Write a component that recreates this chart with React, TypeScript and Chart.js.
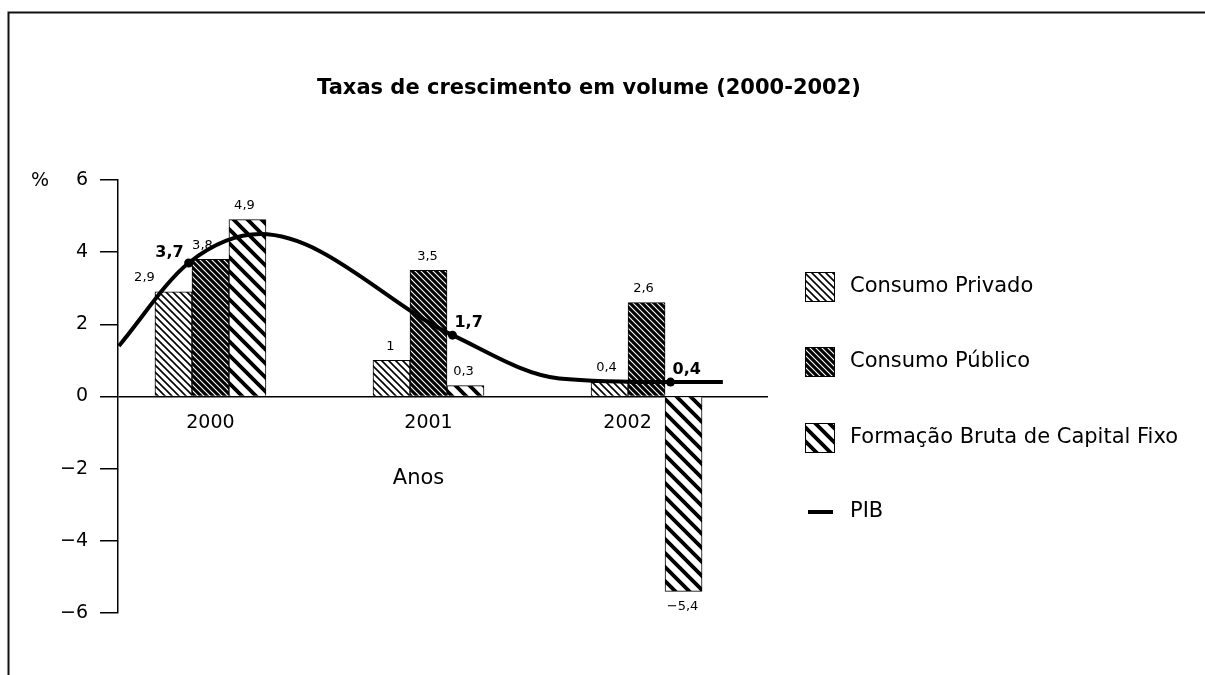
import { useEffect, useRef } from 'react';
import { Chart, registerables } from 'chart.js';

Chart.register(...registerables);

// ---- data ----
const categories = ['2000', '2001', '2002'];
const consumoPrivado = [2.9, 1, 0.4];
const consumoPublico = [3.8, 3.5, 2.6];
const fbcf = [4.9, 0.3, -5.4];
const pibValues = [3.7, 1.7, 0.4];
// where each labelled PIB dot sits, in category units
const pibX = [-0.1, 1.11, 2.11];
// unlabelled points (start, peak, knee, end)
const pibTraceX = [-0.42, 0.23, 1.6, 2.35];
const pibTraceY = [1.4, 4.5, 0.5, 0.4];
const yTicks = [-6, -4, -2, 0, 2, 4, 6];
const seriesNames = ['Consumo Privado', 'Consumo Público', 'Formação Bruta de Capital Fixo', 'PIB'];
const titleText = 'Taxas de crescimento em volume (2000-2002)';
const yUnit = '%';
const xTitle = 'Anos';

const FONT = '"DejaVu Sans", "Liberation Sans", Arial, sans-serif';

function fmt(v: number): string {
  const s = String(Math.abs(v)).replace('.', ',');
  return v < 0 ? '\u2212' + s : s;
}

function stripePattern(tile: number, lw: number, fg: string, bg: string): CanvasPattern | string {
  const c = document.createElement('canvas');
  c.width = tile;
  c.height = tile;
  const g = c.getContext('2d');
  if (!g) return bg;
  g.fillStyle = bg;
  g.fillRect(0, 0, tile, tile);
  g.strokeStyle = fg;
  g.lineWidth = lw;
  g.beginPath();
  for (const k of [-1, 0, 1]) {
    g.moveTo(k * tile - tile, -tile);
    g.lineTo(k * tile + 2 * tile, 2 * tile);
  }
  g.stroke();
  return g.createPattern(c, 'repeat') || bg;
}

export default function App() {
  const ref = useRef<HTMLCanvasElement>(null);

  useEffect(() => {
    const canvas = ref.current;
    if (!canvas) return;

    const patterns = [
      stripePattern(7, 1.6, '#000', '#fff'),
      stripePattern(6, 1.1, '#fff', '#000'),
      stripePattern(14, 3.8, '#000', '#fff'),
    ];
    const barSeries = [consumoPrivado, consumoPublico, fbcf];

    const pibPoints = [
      ...pibValues.map((y, i) => ({ x: pibX[i], y, labelled: true })),
      ...pibTraceY.map((y, i) => ({ x: pibTraceX[i], y, labelled: false })),
    ].sort((a, b) => a.x - b.x);

    // label offsets (dx) for bar value labels, per series / category
    const barLabelDx = [
      [-29, -1, -3],
      [-8, -1, -3],
      [-3, -2, -1],
    ];
    const xLabelDx = [0, 0, -19];

    const decor = {
      id: 'decor',
      beforeDraw(chart: any) {
        const { ctx, width, height } = chart;
        ctx.save();
        ctx.fillStyle = '#fff';
        ctx.fillRect(0, 0, width, height);
        ctx.strokeStyle = '#111';
        ctx.lineWidth = 2;
        ctx.beginPath();
        ctx.moveTo(8.5, height);
        ctx.lineTo(8.5, 12.5);
        ctx.lineTo(width, 12.5);
        ctx.stroke();
        ctx.restore();
      },
      afterDatasetsDraw(chart: any) {
        const { ctx } = chart;
        const xs = chart.scales.x;
        const ys = chart.scales.y;
        ctx.save();
        ctx.fillStyle = '#000';
        ctx.textAlign = 'center';
        ctx.textBaseline = 'middle';

        // bar value labels
        ctx.font = `13px ${FONT}`;
        barSeries.forEach((vals, s) => {
          const meta = chart.getDatasetMeta(s);
          meta.data.forEach((el: any, i: number) => {
            const v = vals[i];
            const y = v >= 0 ? el.y - 14 : el.y + 15;
            ctx.fillText(fmt(v), el.x + barLabelDx[s][i], y);
          });
        });

        // PIB labels
        ctx.font = `bold 16px ${FONT}`;
        const pmeta = chart.getDatasetMeta(3);
        let k = 0;
        pmeta.data.forEach((el: any, i: number) => {
          const raw: any = pibPoints[i];
          if (!raw.labelled) return;
          const txt = fmt(raw.y);
          if (k === 0) {
            ctx.textAlign = 'right';
            ctx.fillText(txt, el.x - 5, el.y - 10);
          } else {
            ctx.textAlign = 'left';
            ctx.fillText(txt, el.x + 2, el.y - 12);
          }
          k++;
        });

        // category labels
        ctx.textAlign = 'center';
        ctx.font = `19px ${FONT}`;
        const y0 = ys.getPixelForValue(0);
        categories.forEach((c, i) => {
          ctx.fillText(c, xs.getPixelForValue(i) + xLabelDx[i], y0 + 27);
        });

        // axis titles
        ctx.font = `21px ${FONT}`;
        ctx.fillText(xTitle, xs.getPixelForValue(1) - 10, y0 + 82);
        ctx.font = `19px ${FONT}`;
        ctx.fillText(yUnit, 40, ys.getPixelForValue(6) + 1);

        // title
        ctx.font = `bold 21px ${FONT}`;
        ctx.fillText(titleText, 589, 89);

        // legend
        const lx = 805;
        const box = 30;
        const rows = [287, 362, 438, 512];
        ctx.textAlign = 'left';
        ctx.font = `21px ${FONT}`;
        rows.forEach((ry, r) => {
          if (r < 3) {
            ctx.fillStyle = patterns[r];
            ctx.fillRect(lx, ry - box / 2, box, box);
            ctx.strokeStyle = '#000';
            ctx.lineWidth = 1;
            ctx.strokeRect(lx + 0.5, ry - box / 2 + 0.5, box - 1, box - 1);
          } else {
            ctx.strokeStyle = '#000';
            ctx.lineWidth = 4;
            ctx.beginPath();
            ctx.moveTo(lx + 3, ry);
            ctx.lineTo(lx + box - 2, ry);
            ctx.stroke();
          }
          ctx.fillStyle = '#000';
          ctx.fillText(seriesNames[r], 850, ry);
        });
        ctx.restore();
      },
    };

    const chart = new Chart(canvas, {
      type: 'bar',
      data: {
        datasets: [
          ...barSeries.map((vals, s) => ({
            type: 'bar' as const,
            label: seriesNames[s],
            data: vals.map((y, i) => ({ x: i, y })),
            backgroundColor: patterns[s] as any,
            borderColor: '#000',
            borderWidth: 1,
            barThickness: 37,
            order: 1,
          })),
          {
            type: 'line' as const,
            label: seriesNames[3],
            data: pibPoints as any,
            borderColor: '#000',
            backgroundColor: '#000',
            borderWidth: 4,
            cubicInterpolationMode: 'monotone' as const,
            pointRadius: (c: any) => (c.raw && c.raw.labelled ? 4.5 : 0),
            pointBorderWidth: 0,
            pointBackgroundColor: '#000',
            order: 0,
          },
        ] as any,
      },
      options: {
        animation: false,
        responsive: false,
        layout: { padding: { top: 180, right: 437, bottom: 62, left: 0 } },
        plugins: {
          legend: { display: false },
          tooltip: { enabled: false },
          title: { display: false },
        },
        scales: {
          x: {
            type: 'linear',
            min: -0.424,
            max: 2.557,
            offset: false,
            grid: { display: false, offset: false },
            border: { display: false },
            ticks: { display: false },
            afterFit: (s: any) => {
              s.height = 0;
            },
          },
          y: {
            type: 'linear',
            min: -6,
            max: 6,
            afterBuildTicks: (s: any) => {
              s.ticks = yTicks.map((v) => ({ value: v }));
            },
            afterFit: (s: any) => {
              s.width = 118;
            },
            ticks: {
              callback: (v: any) => fmt(Number(v)),
              font: { family: FONT, size: 19 },
              color: '#000',
              padding: 12,
            },
            grid: {
              color: (c: any) => (c.tick && c.tick.value === 0 ? '#000' : 'rgba(0,0,0,0)'),
              tickColor: '#000',
              tickLength: 18,
              lineWidth: 1.5,
              tickWidth: 1.5,
            },
            border: { color: '#000', width: 1.5 },
          },
        } as any,
      },
      plugins: [decor],
    });

    return () => chart.destroy();
  }, []);

  return (
    <div style={{ position: 'absolute', left: 0, top: 0, width: 1205, height: 675 }}>
      <canvas ref={ref} width={1205} height={675} style={{ display: 'block' }} />
    </div>
  );
}
